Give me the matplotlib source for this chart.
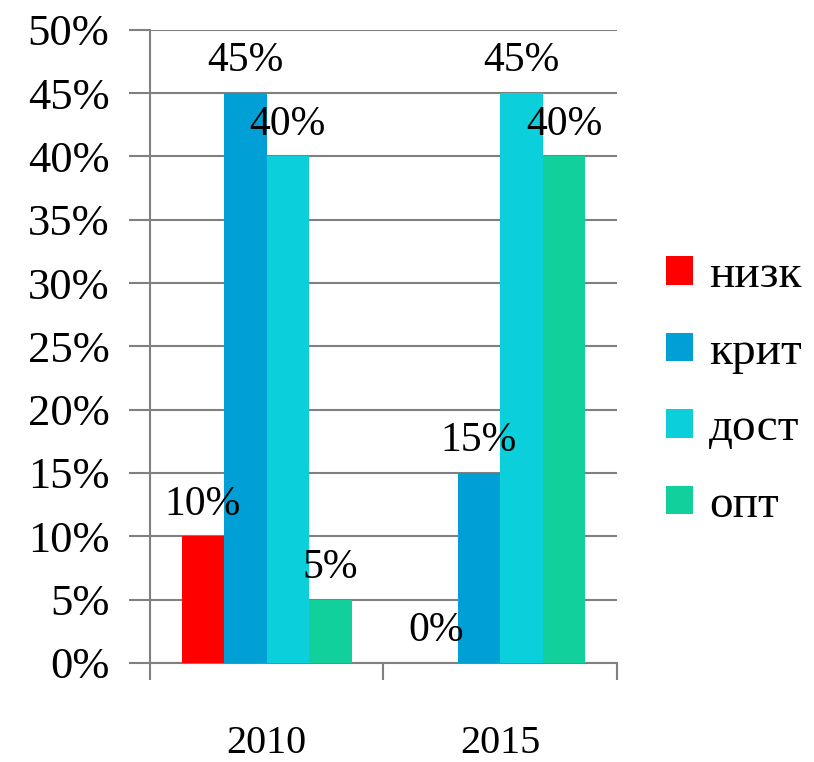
import numpy as np
import matplotlib.pyplot as plt
from matplotlib.ticker import PercentFormatter

years = ['2010', '2015']
series = ['низк', 'крит', 'дост', 'опт']
values = {
    'низк': [10, 0],
    'крит': [45, 15],
    'дост': [40, 45],
    'опт': [5, 40],
}
colors = ['#ff0000', '#009fd6', '#0bcfdb', '#12d09b']

plt.rcParams['font.family'] = ['Liberation Serif', 'DejaVu Serif']

fig = plt.figure(figsize=(8.14, 7.62), dpi=100)
ax = fig.add_axes([0.184, 0.130, 0.574, 0.831])

w = 0.182
x = np.arange(len(years))
for i, name in enumerate(series):
    pos = x + (i - 1.5) * w
    ax.bar(pos, values[name], width=w, color=colors[i], label=name, zorder=3)
    for xb, v in zip(pos, values[name]):
        ax.text(xb, v + 1.0, f'{v}%', ha='center', va='bottom', fontsize=30, zorder=4)

ax.set_xlim(-0.5, 1.5)
ax.set_ylim(0, 50)
ax.set_yticks(np.arange(0, 51, 5))
ax.yaxis.set_major_formatter(PercentFormatter(decimals=0))
ax.set_xticks([-0.5, 0.5, 1.5])
ax.set_xticklabels([])
ax.set_xticks(x, minor=True)
ax.set_xticklabels(years, minor=True, fontsize=29)
ax.tick_params(axis='x', which='minor', length=0, pad=45)
ax.tick_params(axis='x', which='major', length=12, width=1.5, color='#808080', direction='out')
ax.tick_params(axis='y', length=15, width=1.5, color='#808080', labelsize=32, pad=14)

ax.grid(axis='y', color='#808080', linewidth=1.5, zorder=0)
for s in ['top', 'right']:
    ax.spines[s].set_visible(False)
for s in ['left', 'bottom']:
    ax.spines[s].set_color('#808080')
    ax.spines[s].set_linewidth(1.5)

ax.legend(loc='center left', bbox_to_anchor=(1.065, 0.43), frameon=False, fontsize=34,
          handlelength=0.56, handleheight=0.56, handletextpad=0.35, labelspacing=0.72,
          borderaxespad=0)

fig.savefig('out.png', dpi=100)
